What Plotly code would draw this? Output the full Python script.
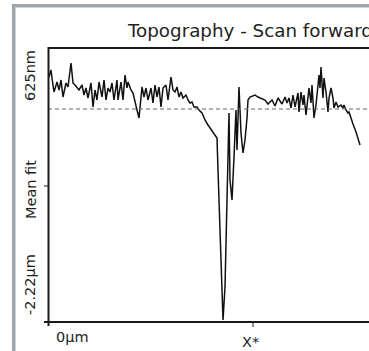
import plotly.graph_objects as go

# Scan profile (x in 0.1 µm units, height in nm relative to mean fit)
x_pos = [0.1, 0.3, 0.4, 0.6, 0.9, 1.1, 1.3, 1.5, 1.8, 2.0, 2.3, 2.5, 2.7, 2.9, 3.1, 3.4, 3.6, 3.8, 4.0, 4.3,
         4.5, 4.7, 4.9, 5.1, 5.4, 5.6, 5.8, 6.0, 6.2, 6.4, 6.6, 6.9, 7.0, 7.3, 7.5, 7.7, 7.9, 8.0, 8.3, 8.5,
         8.7, 8.9, 9.1, 9.4, 9.6, 9.8, 10.0, 10.3, 10.5, 10.7, 10.9, 11.1, 11.3, 11.5, 11.8, 12.0, 12.3, 12.5, 12.7, 12.9,
         13.1, 13.3, 13.5, 13.8, 14.0, 14.2, 14.4, 14.6, 14.9, 15.1, 15.4, 15.7, 16.0, 16.5, 16.9, 17.0, 17.2, 17.3, 17.4, 17.5,
         17.7, 17.8, 17.9, 18.1, 18.2, 18.4, 18.6, 18.8, 18.9, 19.1, 19.2, 19.3, 19.5, 19.7, 19.9, 20.0, 20.2, 20.4, 20.7, 21.0,
         21.3, 21.7, 22.0, 22.4, 22.7, 23.0, 23.4, 23.7, 23.9, 24.1, 24.3, 24.5, 24.7, 25.0, 25.1, 25.3, 25.5, 25.6, 25.8, 26.1,
         26.3, 26.4, 26.6, 26.8, 27.1, 27.2, 27.3, 27.5, 27.6, 27.8, 28.0, 28.1, 28.3, 28.5, 28.6, 28.8, 29.0, 29.3, 29.5, 29.6,
         29.8, 30.0, 30.1, 30.3, 30.5, 30.8, 31.0, 31.2]
height_nm = [320, 390, 310, 170, 270, 190, 290, 120, 260, 220, 460, 260, 240, 220, 190, 240, 140, 210, 110, 260,
             20, 190, 90, 270, 120, 290, 90, 210, 170, 260, 90, 290, 90, 270, 90, 340, 210, 270, 190, 160,
             60, -10, -90, 220, 120, 210, 90, 210, 60, 240, 120, 220, 20, 210, 240, 90, 320, 190, 170, 220,
             120, 170, 110, 140, 90, 60, 70, 20, 20, -10, -40, -110, -160, -230, -290, -610, -1180, -1640, -1910, -2110,
             -1780, -1380, -1040, -40, -710, -910, -480, -10, -410, 220, -10, -240, -440, -310, -90, 90, 120, 130, 140, 120,
             110, 90, 50, 90, 30, 110, 50, 120, 60, 110, 10, 140, 20, 160, -30, 170, 40, 140, -60, 210,
             60, 240, -90, 40, 340, 210, 420, 110, 310, 170, -30, 110, 210, 110, 10, 70, 20, 40, 10, 40,
             -10, -40, -30, -80, -150, -230, -310, -360]

tick_labels_y = ["625nm", "Mean fit", "-2.22µm"]
tick_labels_x = ["0µm", "X*"]
title_text = "Topography - Scan forward"

W, H = 369, 351


def px(x):
    return x / W


def py(y):
    return 1 - y / H


fig = go.Figure()
fig.add_trace(go.Scatter(x=x_pos, y=height_nm, mode="lines",
                         line=dict(color="#111111", width=1.5), hoverinfo="skip"))

fig.update_layout(
    width=W, height=H, margin=dict(l=0, r=0, t=0, b=0),
    paper_bgcolor="white", plot_bgcolor="white", showlegend=False,
    xaxis=dict(domain=[px(48), 1], range=[0, (W - 48) / 10], visible=False, fixedrange=True),
    yaxis=dict(domain=[py(322), py(49)], range=[(109 - 322) * 10, (109 - 49) * 10], visible=False, fixedrange=True),
)

shapes = []
# window frame
shapes.append(dict(type="rect", xref="paper", yref="paper", x0=px(12), x1=px(W + 2), y0=py(H + 2), y1=py(4),
                   line=dict(width=0), fillcolor="#a3a3a3", layer="below"))
shapes.append(dict(type="rect", xref="paper", yref="paper", x0=px(15), x1=px(W + 2), y0=py(H + 2), y1=py(7),
                   line=dict(width=0), fillcolor="#c4d4ec", layer="below"))
shapes.append(dict(type="rect", xref="paper", yref="paper", x0=px(16), x1=px(W + 2), y0=py(H + 2), y1=py(8),
                   line=dict(width=0), fillcolor="white", layer="below"))
# mean fit dashed line
shapes.append(dict(type="line", xref="paper", yref="y", x0=px(48), x1=1, y0=0, y1=0,
                   line=dict(color="#666666", width=1, dash="4px,3px")))
# axes
ax = dict(color="#1a1a1a", width=2)
shapes.append(dict(type="line", xref="paper", yref="paper", x0=px(48.5), x1=px(48.5), y0=py(326), y1=py(47), line=ax))
shapes.append(dict(type="line", xref="paper", yref="paper", x0=px(44), x1=1, y0=py(322), y1=py(322), line=ax))
shapes.append(dict(type="line", xref="paper", yref="paper", x0=px(48), x1=1, y0=py(48), y1=py(48), line=ax))
# ticks
shapes.append(dict(type="line", xref="paper", yref="paper", x0=px(44), x1=px(48), y0=py(186), y1=py(186),
                   line=dict(color="#1a1a1a", width=1)))
shapes.append(dict(type="line", xref="paper", yref="paper", x0=px(253), x1=px(253), y0=py(322), y1=py(327),
                   line=dict(color="#1a1a1a", width=1)))
fig.update_layout(shapes=shapes)

font_t = dict(family="DejaVu Sans", size=18.3, color="#1e1e1e")
font_l = dict(family="DejaVu Sans", size=14.5, color="#1e1e1e")
ann = [
    dict(text=title_text, x=px(125), y=py(31), xanchor="left", yanchor="middle", font=font_t),
    dict(text=tick_labels_y[0], x=px(30), y=py(76), textangle=-90, xanchor="center", yanchor="middle", font=font_l),
    dict(text=tick_labels_y[1], x=px(31), y=py(190), textangle=-90, xanchor="center", yanchor="middle", font=font_l),
    dict(text=tick_labels_y[2], x=px(30), y=py(285), textangle=-90, xanchor="center", yanchor="middle", font=font_l),
    dict(text=tick_labels_x[0], x=px(54), y=py(337), xanchor="left", yanchor="middle", font=font_l),
    dict(text=tick_labels_x[1], x=px(250), y=py(342), xanchor="center", yanchor="middle", font=font_l),
]
for a in ann:
    a.update(xref="paper", yref="paper", showarrow=False)
fig.update_layout(annotations=ann)

fig.write_html("out.html")
